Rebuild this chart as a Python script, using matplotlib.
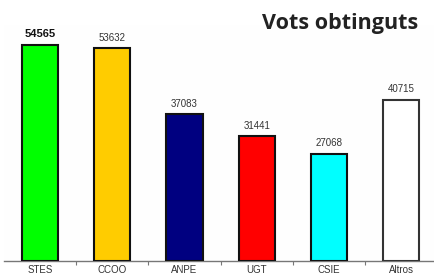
import matplotlib
matplotlib.use("Agg")
import matplotlib.pyplot as plt

# dades del gràfic
sindicats = ["STES", "CCOO", "ANPE", "UGT", "CSIE", "Altros"]
vots = [54565, 53632, 37083, 31441, 27068, 40715]
colors = ["#00ff00", "#ffcc00", "#000080", "#ff0000", "#00ffff", "#ffffff"]
vores = ["#111111", "#111111", "#111111", "#111111", "#111111", "#333333"]

W, H = 435, 275
fig = plt.figure(figsize=(W / 100, H / 100), dpi=100)
fig.patch.set_facecolor("white")

# eixos en coordenades de píxel
left, right, top, bottom = 3.7, 437.5, 25, 261
ax = fig.add_axes([left / W, (H - bottom) / H, (right - left) / W, (bottom - top) / H])
ax.set_facecolor("#fefefe")

x = range(len(sindicats))
ax.bar(x, vots, width=0.5, color=colors, edgecolor=vores, linewidth=1.5, zorder=3)

for i, v in enumerate(vots):
    if i == 0:
        ax.text(i, v + 1300, str(v), ha="center", va="bottom", fontsize=8,
                fontweight="bold", color="#111111", family="Liberation Sans")
    else:
        ax.text(i, v + 1300, str(v), ha="center", va="bottom", fontsize=7,
                color="#333333", family="Liberation Sans")

ax.set_xlim(-0.5, 5.5)
ax.set_ylim(0, 59500)
ax.set_yticks([])
ax.set_xticks([i + 0.5 for i in range(5)])
ax.set_xticklabels([])
ax.set_xticks(list(x), minor=True)
ax.set_xticklabels(sindicats, minor=True, fontsize=7, color="#333333",
                   family="Liberation Sans")
ax.tick_params(axis="x", which="major", length=3, color="#777777", width=0.8)
ax.tick_params(axis="x", which="minor", length=0, pad=3)
for s in ["top", "right", "left"]:
    ax.spines[s].set_visible(False)
ax.spines["bottom"].set_color("#777777")
ax.spines["bottom"].set_linewidth(1.0)

fig.text(418 / W, 1 - 24 / H, "Vots obtinguts", ha="right", va="center",
         fontsize=15.5, fontweight="bold", color="#222222", family="Open Sans")

fig.savefig("out.png", dpi=100)
